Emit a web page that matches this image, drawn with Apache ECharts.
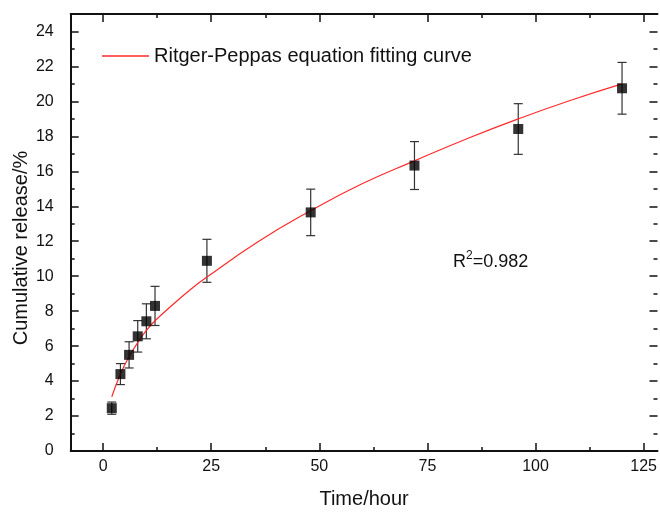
<!DOCTYPE html>
<html>
<head>
<meta charset="utf-8">
<script src="https://cdn.jsdelivr.net/npm/echarts@6/dist/echarts.min.js"></script>
<style>
  html, body { margin: 0; padding: 0; background: #fff; }
  #release { width: 660px; height: 514px; }
</style>
</head>
<body>
<div id="release"></div>
<script>
// data
var hours = [2, 4, 6, 8, 10, 12, 24, 48, 72, 96, 120];
var release = [2.45, 4.4, 5.5, 6.56, 7.42, 8.3, 10.88, 13.65, 16.33, 18.42, 20.75];
var releaseErr = [0.35, 0.6, 0.75, 0.9, 1.0, 1.12, 1.23, 1.33, 1.37, 1.45, 1.48];

// Ritger-Peppas fitting curve
var fitHours = [2, 4, 6, 8, 10, 12, 16, 20, 24, 36, 48, 60, 72, 84, 96, 108, 120];
var fitRelease = [3.1, 4.4, 5.4, 6.2, 6.9, 7.45, 8.35, 9.2, 9.95, 12.0, 13.75, 15.3, 16.6, 17.85, 19.0, 20.05, 21.0];

var xTicks = [0, 25, 50, 75, 100, 125];
var xMinorTicks = [12.5, 37.5, 62.5, 87.5, 112.5];
var yTicks = [0, 2, 4, 6, 8, 10, 12, 14, 16, 18, 20, 22, 24];
var yMinorTicks = [1, 3, 5, 7, 9, 11, 13, 15, 17, 19, 21, 23];

var fitName = 'Ritger-Peppas equation fitting curve';

(function(){
  'use strict';

  var font = 'Liberation Sans, Arial, sans-serif';
  var ink = '#111';

  function pairs(xs, ys){
    var out = [];
    for (var i = 0; i < xs.length; i++) out.push([xs[i], ys[i]]);
    return out;
  }

  // one axis object, major or minor ticks, with or without line/labels
  function xAx(pos, ticks, len, labels, line, extra){
    var a = {
      type: 'value', position: pos, min: -7.5, max: 128.2,
      axisLine: { show: line, onZero: false, lineStyle: { color: ink, width: 2 } },
      axisTick: { show: true, inside: true, length: len, customValues: ticks,
                  lineStyle: { color: ink, width: 1.5 } },
      axisLabel: { show: labels, customValues: ticks, fontSize: 16, color: ink,
                   fontFamily: font, margin: 8 },
      splitLine: { show: false }
    };
    if (extra) for (var k in extra) a[k] = extra[k];
    return a;
  }
  function yAx(pos, ticks, len, labels, line){
    return {
      type: 'value', position: pos, min: 0, max: 25,
      axisLine: { show: line, onZero: false, lineStyle: { color: ink, width: 2 } },
      axisTick: { show: true, inside: true, length: len, customValues: ticks,
                  lineStyle: { color: ink, width: 1.5 } },
      axisLabel: { show: labels, customValues: ticks, fontSize: 16, color: ink,
                   fontFamily: font, margin: 17 },
      splitLine: { show: false }
    };
  }

  var errData = [];
  for (var i = 0; i < hours.length; i++) {
    errData.push([hours[i], release[i] - releaseErr[i], release[i] + releaseErr[i]]);
  }

  function renderErr(params, api){
    var x = api.value(0);
    var lo = api.coord([x, api.value(1)]);
    var hi = api.coord([x, api.value(2)]);
    var w = 4.5;
    var st = { stroke: '#333', lineWidth: 1.2, fill: null };
    return {
      type: 'group',
      children: [
        { type: 'line', shape: { x1: lo[0], y1: lo[1], x2: hi[0], y2: hi[1] }, style: st },
        { type: 'line', shape: { x1: lo[0] - w, y1: lo[1], x2: lo[0] + w, y2: lo[1] }, style: st },
        { type: 'line', shape: { x1: hi[0] - w, y1: hi[1], x2: hi[0] + w, y2: hi[1] }, style: st }
      ]
    };
  }

  var myChart = echarts.init(document.getElementById('release'));

  var option = {
    animation: false,
    backgroundColor: '#fff',
    textStyle: { fontFamily: font },
    grid: { left: 70.7, right: 0, top: 14, bottom: 58.3, containLabel: false },
    legend: {
      left: 102, top: 46, padding: 0,
      itemWidth: 47, itemHeight: 1.5,
      icon: 'rect',
      data: [fitName],
      textStyle: { fontSize: 20, color: ink, fontFamily: font }
    },
    xAxis: [
      xAx('bottom', xTicks, 8, true, true, {
        name: 'Time/hour', nameLocation: 'middle', nameGap: 38,
        nameTextStyle: { fontSize: 20, color: ink, fontFamily: font }
      }),
      xAx('bottom', xMinorTicks, 4, false, false),
      xAx('top', xTicks, 8, false, true),
      xAx('top', xMinorTicks, 4, false, false)
    ],
    yAxis: [
      yAx('left', yTicks, 8, true, true),
      yAx('left', yMinorTicks, 4, false, false),
      // right edge line falls outside the crop in the figure, only ticks show
      yAx('right', yTicks, 8, false, false),
      yAx('right', yMinorTicks, 4, false, false)
    ],
    graphic: [
      {
        type: 'text', x: 21, y: 248, rotation: Math.PI / 2,
        style: { text: 'Cumulative release/%', fontSize: 20, fill: ink, fontFamily: font,
                 align: 'center', verticalAlign: 'middle' }
      },
      {
        type: 'text', left: 453, top: 250,
        style: {
          text: '{a|R}{b|2}{a|=0.982}',
          rich: {
            a: { fontSize: 18, fill: ink, fontFamily: font },
            b: { fontSize: 12, fill: ink, fontFamily: font, padding: [0, 0, 13, 0] }
          }
        }
      }
    ],
    series: [
      {
        name: 'error',
        type: 'custom',
        renderItem: renderErr,
        data: errData,
        encode: { x: 0, y: [1, 2] },
        z: 2
      },
      {
        name: fitName,
        type: 'line',
        smooth: true,
        symbol: 'none',
        data: pairs(fitHours, fitRelease),
        lineStyle: { color: '#ff2a2a', width: 1.2 },
        itemStyle: { color: '#ff2a2a' },
        z: 3
      },
      {
        name: 'release',
        type: 'scatter',
        symbol: 'rect',
        symbolSize: 10,
        data: pairs(hours, release),
        itemStyle: { color: '#000' },
        z: 4
      }
    ]
  };

  myChart.setOption(option);
}());
</script>
</body>
</html>
